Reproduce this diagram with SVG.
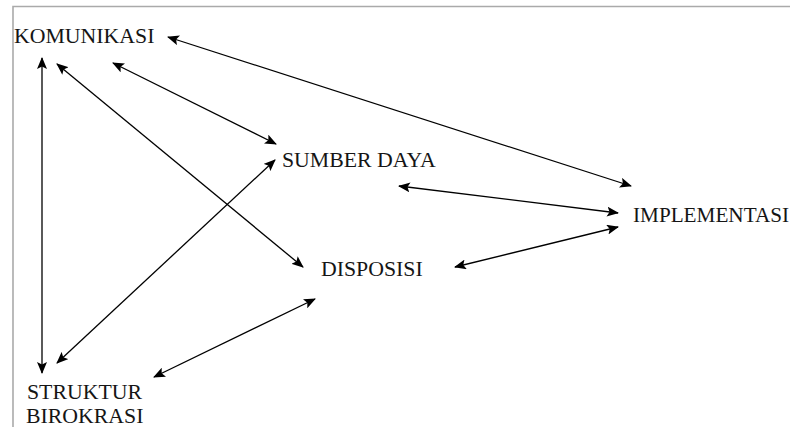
<svg xmlns="http://www.w3.org/2000/svg" width="790" height="427" viewBox="0 0 790 427">
<style>
.frame{stroke:#aaaaaa;stroke-width:1.6;fill:none}
.lbl{font-family:'Liberation Serif','Times New Roman','DejaVu Serif',serif;font-size:21.8px;fill:#151515}
.conn line{stroke:#000;stroke-width:1.3;marker-start:url(#ah);marker-end:url(#ah)}
</style>
<defs>
<marker id="ah" viewBox="0 0 12 10" refX="11" refY="5" markerWidth="12" markerHeight="10" markerUnits="userSpaceOnUse" orient="auto-start-reverse">
<path d="M0,0 L12,5 L0,10 L2.5,5 Z" fill="#000"/>
</marker>
</defs>
<rect width="790" height="427" fill="#fff"/>
<path class="frame" d="M13,427 L13,6.5 L790,6.5"/>
<g id="komunikasi"><text class="lbl" x="14" y="43">KOMUNIKASI</text></g>
<g id="sumber-daya"><text class="lbl" x="282" y="167">SUMBER DAYA</text></g>
<g id="implementasi"><text class="lbl" x="633" y="222" style="font-size:21.2px">IMPLEMENTASI</text></g>
<g id="disposisi"><text class="lbl" x="321" y="276">DISPOSISI</text></g>
<g id="struktur-birokrasi"><text class="lbl" x="27" y="399">STRUKTUR</text><text class="lbl" x="26" y="423">BIROKRASI</text></g>
<g class="conn" id="connectors">
<line x1="168" y1="37" x2="631" y2="186"/>
<line x1="113" y1="63" x2="276" y2="144"/>
<line x1="57" y1="64" x2="303" y2="267"/>
<line x1="42" y1="58" x2="42" y2="373"/>
<line x1="275" y1="160" x2="57" y2="363"/>
<line x1="399" y1="186" x2="618" y2="213"/>
<line x1="455" y1="267" x2="618" y2="227"/>
<line x1="315" y1="299" x2="154" y2="377"/>
</g>
</svg>
